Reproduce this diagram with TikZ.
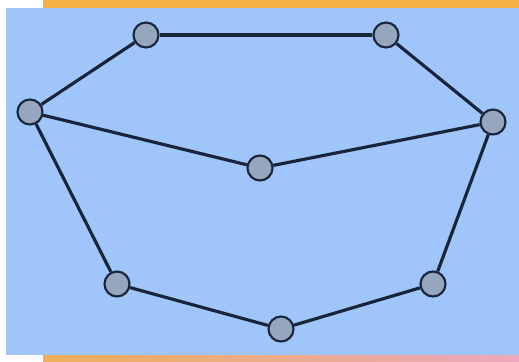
\documentclass[tikz,border=0pt]{standalone}
\usepackage{tikz}
\usetikzlibrary{calc}

\definecolor{bgblue}{RGB}{160,197,250}
\definecolor{bandorange}{RGB}{246,176,72}
\definecolor{bandpink}{RGB}{236,168,190}
\definecolor{vertfill}{RGB}{150,166,190}
\definecolor{edgeink}{RGB}{24,36,58}

\tikzset{
  vert/.style={circle, draw=edgeink, fill=vertfill, line width=1.2pt, minimum size=0.5cm, inner sep=0pt},
  edge/.style={draw=edgeink, line width=1.8pt}
}

\begin{document}
\begin{tikzpicture}[x=0.02cm, y=-0.02cm]
  \useasboundingbox (0,0) rectangle (519,361);
  \fill[white] (0,0) rectangle (519,361);
  \fill[bandorange] (43,0) rectangle (519,8);
  \shade[left color=bandorange!80!brown!90, right color=bandpink] (43,354) rectangle (519,361);
  \fill[bgblue] (6,8) rectangle (519,355);
  % vertices
  \node[vert] (a) at (146,35) {};
  \node[vert] (b) at (386,35) {};
  \node[vert] (c) at (30,112) {};
  \node[vert] (d) at (493,122) {};
  \node[vert] (e) at (260,168) {};
  \node[vert] (f) at (117,284) {};
  \node[vert] (g) at (433,284) {};
  \node[vert] (h) at (281,329) {};
  % edges
  \draw[edge] (a) -- (b);
  \draw[edge] (a) -- (c);
  \draw[edge] (b) -- (d);
  \draw[edge] (c) -- (e);
  \draw[edge] (e) -- (d);
  \draw[edge] (c) -- (f);
  \draw[edge] (f) -- (h);
  \draw[edge] (h) -- (g);
  \draw[edge] (g) -- (d);
\end{tikzpicture}
\end{document}
